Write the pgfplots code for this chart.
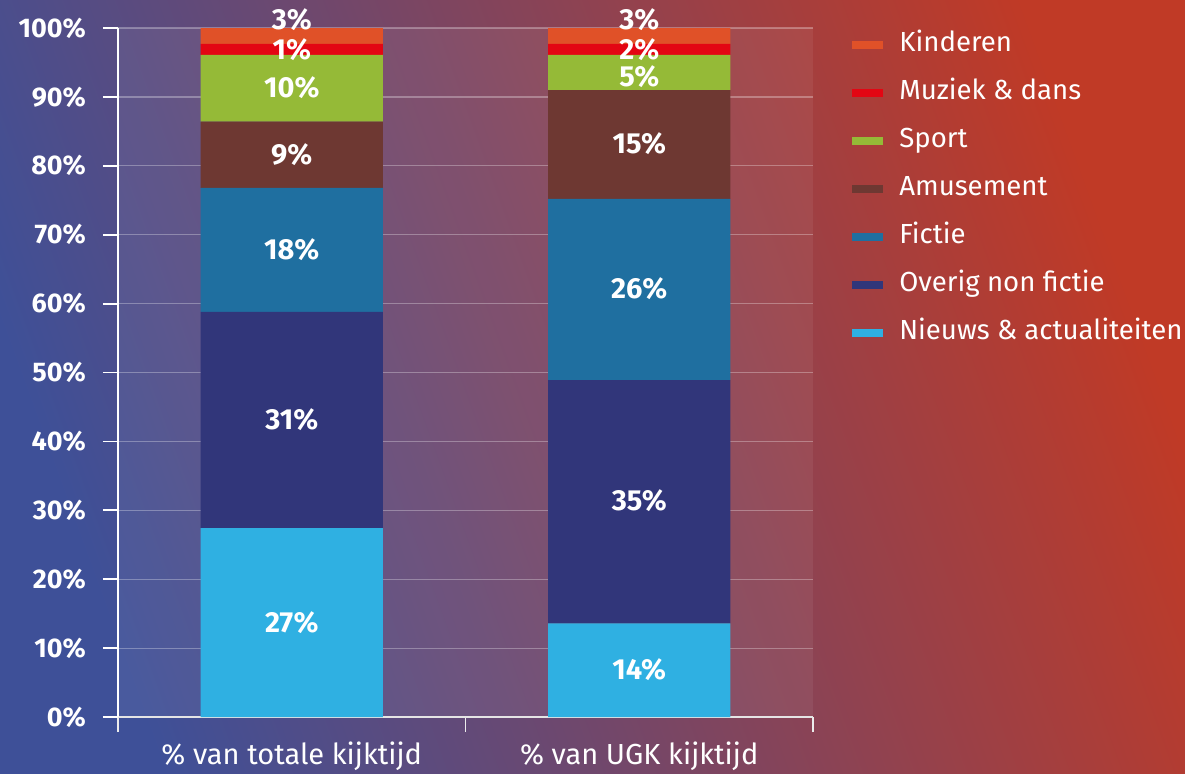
\documentclass[border=0pt]{standalone}
\usepackage{fontspec}
\setmainfont{Fira Sans}
\usepackage{pgfplots}
\usepackage{pgfplotstable}
\pgfplotsset{compat=1.18}

\definecolor{kinderen}{HTML}{E05128}
\definecolor{muziek}{HTML}{E30613}
\definecolor{sport}{HTML}{95BA37}
\definecolor{amusement}{HTML}{6E3832}
\definecolor{fictie}{HTML}{1F6FA0}
\definecolor{overig}{HTML}{31367A}
\definecolor{nieuws}{HTML}{2FB0E2}
\definecolor{bgleft}{RGB}{62,80,152}
\definecolor{bgmid}{RGB}{135,72,105}
\definecolor{bgright}{RGB}{192,58,38}

% share of viewing time per genre (bottom to top)
\pgfplotstableread{
x nieuws overig fictie amusement sport muziek kinderen
0 27.4 31.4 18.0 9.6 9.7 1.6 2.3
1 13.6 35.3 26.3 15.8 5.1 1.6 2.3
}\kijktijd

% label positions (segment centres) and texts
\pgfplotstableread{
x y label
0 13.7 27\%
0 43.1 31\%
0 67.8 18\%
0 81.6 9\%
0 91.3 10\%
0 96.8 1\%
0 101.2 3\%
1 6.9 14\%
1 31.4 35\%
1 62.1 26\%
1 83.2 15\%
1 92.9 5\%
1 96.8 2\%
1 101.2 3\%
}\labels

\begin{document}
\begin{tikzpicture}
\shade[left color=bgleft, middle color=bgmid, right color=bgright, shading angle=110]
  (0,0) rectangle (592.5pt,386.5pt);
\begin{axis}[
    at={(59pt,28pt)}, anchor=south west,
    scale only axis,
    width=347.5pt, height=344.5pt,
    ybar stacked,
    bar width=91pt,
    xmin=-0.5, xmax=1.5,
    ymin=0, ymax=100,
    axis background/.style={fill=white, fill opacity=0.06},
    axis lines*=left,
    y axis line style={white, line width=0.9pt},
    x axis line style={white!80!gray, line width=0.9pt},
    ytick={0,10,...,100},
    yticklabel={\pgfmathprintnumber{\tick}\%},
    yticklabel style={font=\bfseries\fontsize{13.5}{15}\selectfont, text=white, xshift=-5pt},
    /pgf/number format/assume math mode=true,
    ytick style={white, line width=0.9pt},
    major tick length=7.5pt,
    tick align=outside,
    ymajorgrids,
    grid style={white, opacity=0.3, line width=0.6pt},
    xtick={-0.5,0.5,1.5},
    xticklabels={},
    xtick style={draw=white!85!gray, line width=0.9pt},
    extra x ticks={0,1},
    extra x tick labels={\% van totale kijktijd, \% van UGK kijktijd},
    extra x tick style={grid=none, major tick length=0pt,
        tick style={draw=none},
        xticklabel style={font=\fontsize{14.5}{16}\selectfont, text=white, yshift=-9pt}},
    legend image code/.code={\fill[#1] (0pt,-2pt) rectangle (15.5pt,2pt);},
    reverse legend,
    legend cell align=left,
    legend style={at={(1.056,0.996)}, anchor=north west, draw=none, fill=none,
        font=\fontsize{13.8}{15}\selectfont, text=white, inner sep=0pt,
        row sep=10.2pt,
        nodes={inner sep=1pt, text height=9pt, text depth=2.8pt},
        /tikz/every odd column/.append style={column sep=7pt}},
]
\addplot[fill=nieuws, draw=none] table[x=x, y=nieuws] {\kijktijd};
\addlegendentry{Nieuws \& actualiteiten}
\addplot[fill=overig, draw=none] table[x=x, y=overig] {\kijktijd};
\addlegendentry{Overig non fictie}
\addplot[fill=fictie, draw=none] table[x=x, y=fictie] {\kijktijd};
\addlegendentry{Fictie}
\addplot[fill=amusement, draw=none] table[x=x, y=amusement] {\kijktijd};
\addlegendentry{Amusement}
\addplot[fill=sport, draw=none] table[x=x, y=sport] {\kijktijd};
\addlegendentry{Sport}
\addplot[fill=muziek, draw=none] table[x=x, y=muziek] {\kijktijd};
\addlegendentry{Muziek \& dans}
\addplot[fill=kinderen, draw=none] table[x=x, y=kinderen] {\kijktijd};
\addlegendentry{Kinderen}
\end{axis}
\begin{axis}[
    at={(59pt,28pt)}, anchor=south west,
    scale only axis,
    width=347.5pt, height=344.5pt,
    xmin=-0.5, xmax=1.5,
    ymin=0, ymax=100,
    hide axis, clip=false,
]
\addplot[draw=none, mark=none, nodes near coords, point meta=explicit symbolic,
    nodes near coords align=center,
    every node near coord/.append style={font=\bfseries\fontsize{14.5}{16}\selectfont,
        text=white, inner sep=0pt}]
    table[x=x, y=y, meta=label] {\labels};
\end{axis}
\pgfresetboundingbox
\useasboundingbox (0,0) rectangle (592.5pt,386.5pt);
\end{tikzpicture}
\end{document}
